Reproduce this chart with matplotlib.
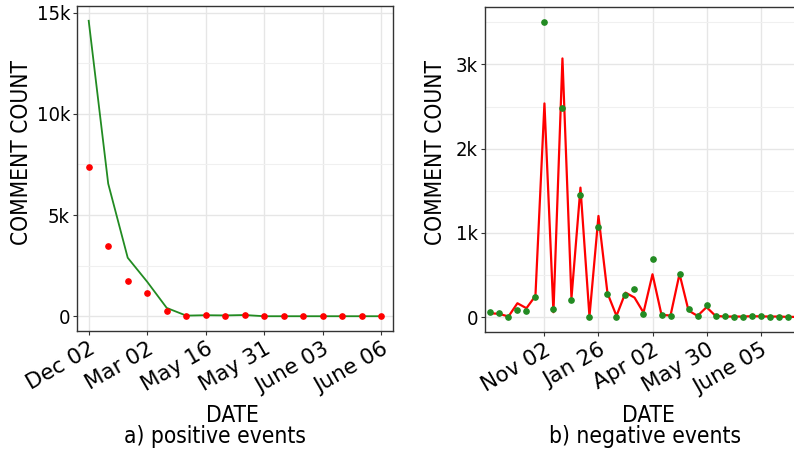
import matplotlib
matplotlib.use('Agg')
import matplotlib.pyplot as plt
from matplotlib.ticker import FuncFormatter, MultipleLocator
import numpy as np

# %%
# a) positive events
pos_line = [14600, 6550, 2890, 1700, 410, 30, 50, 40, 60, 0, 0, 0, 0, 0, 0, 0]
pos_dots = [7360, 3460, 1730, 1170, 260, 10, 40, 20, 50, 5, 5, 5, 5, 5, 5, 5]
pos_ticks = [0, 3, 6, 9, 12, 15]
pos_labels = ['Dec 02', 'Mar 02', 'May 16', 'May 31', 'June 03', 'June 06']

# b) negative events (panel runs past the right edge of the picture)
neg_line = [47, 40, 8, 166, 107, 253, 2537, 59, 3071, 225, 1538, 8, 1202, 285, 16,
            292, 233, 55, 510, 28, 20, 514, 79, 16, 119, 16, 8, 8, 8, 12, 10, 8, 8, 4, 4, 4]
neg_dots = [59, 47, 8, 87, 71, 241, 3506, 95, 2486, 206, 1451, 0, 1075, 277, 4,
            269, 332, 43, 696, 28, 20, 518, 99, 16, 150, 16, 16, 8, 8, 20, 16, 8, 8, 0, 4, 4]
neg_ticks = [6, 12, 18, 24, 30]
neg_labels = ['Nov 02', 'Jan 26', 'Apr 02', 'May 30', 'June 05']

# %%
ytick_fs = 14.5
xtick_fs = 15.5
lab_fs = 16.3
plt.rcParams['font.family'] = 'DejaVu Sans'
plt.rcParams['font.stretch'] = 'condensed'

def kfmt(v, pos):
    return '0' if v == 0 else '%dk' % round(v / 1000)

def style(ax, ymax, step):
    ax.set_facecolor('white')
    for s in ax.spines.values():
        s.set_color('#333333')
        s.set_linewidth(1.0)
    ax.yaxis.set_major_locator(MultipleLocator(step))
    ax.yaxis.set_minor_locator(MultipleLocator(step / 2))
    ax.yaxis.set_major_formatter(FuncFormatter(kfmt))
    ax.grid(True, which='major', color='#e6e6e6', lw=1.0)
    ax.grid(True, which='minor', axis='y', color='#f0f0f0', lw=0.8)
    ax.set_axisbelow(True)
    ax.tick_params(axis='both', which='major', length=3, color='#333333', pad=2)
    ax.tick_params(axis='y', labelsize=ytick_fs)
    ax.tick_params(axis='x', labelsize=xtick_fs, pad=2.5)
    ax.tick_params(axis='y', which='minor', length=0)
    ax.set_ylim(-0.05 * ymax, ymax * 1.05)

def xlabels(ax, ticks, labels):
    ax.set_xticks(ticks)
    ax.set_xticklabels(labels, rotation=30, ha='right', va='top',
                       rotation_mode='anchor', fontstretch='normal')

fig = plt.figure(figsize=(7.94, 4.51), dpi=100)
W, H = 794, 451
ax1 = fig.add_axes([77 / W, 1 - 331 / H, (393 - 77) / W, (331 - 6) / H])
ax2 = fig.add_axes([485 / W, 1 - 332 / H, (811 - 485) / W, (332 - 7) / H])

x1 = np.arange(len(pos_line))
ax1.plot(x1, pos_line, color='#228B22', lw=1.3, zorder=2)
ax1.plot(x1, pos_dots, 'o', color='#FF0000', ms=3.8, zorder=3)
style(ax1, max(pos_line), 5000)
ax1.set_xlim(-0.6, len(x1) - 1 + 0.6)
xlabels(ax1, pos_ticks, pos_labels)

x2 = np.arange(len(neg_line))
ax2.plot(x2, neg_line, color='#FF0000', lw=1.6, zorder=2)
ax2.plot(x2, neg_dots, 'o', color='#228B22', ms=3.8, zorder=3)
style(ax2, max(neg_dots), 1000)
ax2.set_xlim(-0.6, len(x2) - 1 + 0.6)
xlabels(ax2, neg_ticks, neg_labels)

# axis titles and captions
fig.text(21.5 / W, 1 - 152.5 / H, 'COMMENT COUNT', fontsize=lab_fs, rotation=90,
         ha='center', va='center')
fig.text(435 / W, 1 - 152.5 / H, 'COMMENT COUNT', fontsize=lab_fs, rotation=90,
         ha='center', va='center')
fig.text(232 / W, 1 - 422 / H, 'DATE', fontsize=lab_fs, ha='center', va='baseline')
fig.text(648 / W, 1 - 422 / H, 'DATE', fontsize=lab_fs, ha='center', va='baseline')
fig.text(215 / W, 1 - 443 / H, 'a) positive events', fontsize=lab_fs, ha='center', va='baseline')
fig.text(645 / W, 1 - 443 / H, 'b) negative events', fontsize=lab_fs, ha='center', va='baseline')

fig.savefig('out.png', dpi=100, facecolor='white')
